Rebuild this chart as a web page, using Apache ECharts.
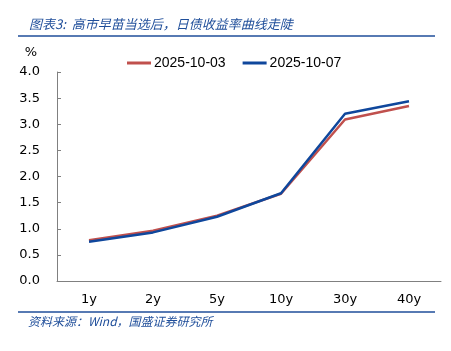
<!DOCTYPE html>
<html>
<head>
<meta charset="utf-8">
<script src="https://cdn.jsdelivr.net/npm/echarts@6/dist/echarts.min.js"></script>
<style>
  html, body { margin: 0; padding: 0; background: #fff; }
  #chart { width: 451px; height: 351px; }
</style>
</head>
<body>
<div id="chart"></div>
<script>
// tenors on the x axis
const tenors = ['1y', '2y', '5y', '10y', '30y', '40y'];
// JGB yields, %
const yields1003 = [0.78, 0.96, 1.25, 1.67, 3.09, 3.35];
const yields1007 = [0.75, 0.93, 1.23, 1.68, 3.20, 3.44];

const titleText = '图表3:  高市早苗当选后，日债收益率曲线走陡';
const sourceText = '资料来源：Wind，国盛证券研究所';

const red = '#C0504D';
const blue = '#0F479C';
const navy = '#1F4E9A';
const cjk = '"Noto Sans CJK SC", "Microsoft YaHei", sans-serif';
const latin = '"DejaVu Sans", Verdana, sans-serif';
const legendFont = '"Liberation Sans", Arial, sans-serif';

const chart = echarts.init(document.getElementById('chart'), null, { renderer: 'canvas' });

chart.setOption({
  animation: false,
  backgroundColor: '#fff',
  title: {
    text: titleText,
    left: 24,
    top: 13,
    textStyle: { fontFamily: cjk, fontSize: 13, fontWeight: 'normal', fontStyle: 'italic', color: navy }
  },
  legend: {
    top: 51,
    left: 122,
    itemWidth: 24,
    itemHeight: 3,
    itemGap: 17,
    icon: 'rect',
    textStyle: { fontFamily: legendFont, fontSize: 14, color: '#000', padding: [0, 0, 0, -2] },
    data: ['2025-10-03', '2025-10-07']
  },
  grid: { left: 57, right: 10, top: 72, bottom: 70 },
  xAxis: {
    type: 'category',
    data: tenors,
    boundaryGap: true,
    axisLine: { lineStyle: { color: '#808080', width: 1 } },
    axisTick: { inside: true, length: 4, lineStyle: { color: '#808080' } },
    axisLabel: { fontFamily: latin, fontSize: 13, color: '#000', margin: 12 }
  },
  yAxis: {
    type: 'value',
    min: 0,
    max: 4,
    interval: 0.5,
    name: '%',
    nameLocation: 'end',
    nameGap: 13,
    nameTextStyle: { fontFamily: latin, fontSize: 13, color: '#000', align: 'right', padding: [0, 20, 0, 0] },
    axisLine: { show: true, lineStyle: { color: '#808080', width: 1 } },
    axisTick: { show: true, inside: true, length: 4, lineStyle: { color: '#808080' } },
    splitLine: { show: false },
    axisLabel: { fontFamily: latin, fontSize: 13, color: '#000', margin: 17, formatter: v => v.toFixed(1) }
  },
  series: [
    {
      name: '2025-10-03',
      type: 'line',
      data: yields1003,
      symbol: 'none',
      lineStyle: { color: red, width: 2.5 },
      itemStyle: { color: red }
    },
    {
      name: '2025-10-07',
      type: 'line',
      data: yields1007,
      symbol: 'none',
      lineStyle: { color: blue, width: 2.5 },
      itemStyle: { color: blue }
    }
  ],
  graphic: [
    {
      type: 'line',
      shape: { x1: 18, y1: 36, x2: 435, y2: 36 },
      style: { stroke: navy, lineWidth: 1.5 }
    },
    {
      type: 'line',
      shape: { x1: 18, y1: 312, x2: 435, y2: 312 },
      style: { stroke: navy, lineWidth: 1.5 }
    },
    {
      type: 'text',
      left: 28,
      top: 315,
      style: { text: sourceText, font: 'italic 12px ' + cjk, fill: navy }
    }
  ]
});
</script>
</body>
</html>
